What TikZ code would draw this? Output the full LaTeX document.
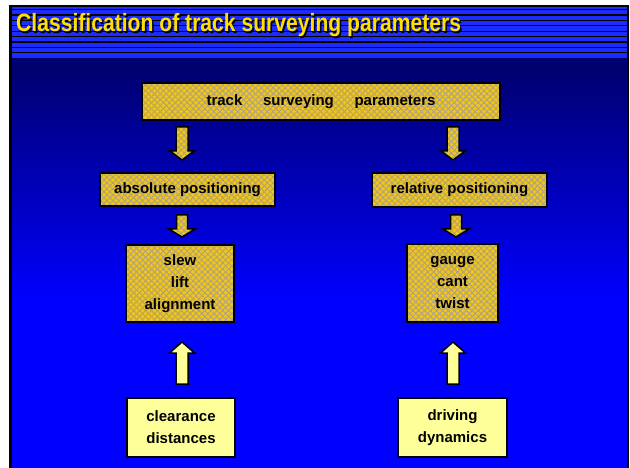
\documentclass[tikz,border=0pt]{standalone}
\usepackage{fontspec}
\setmainfont{Liberation Sans}
\usepackage{graphicx}
\usetikzlibrary{calc,patterns.meta}

% colours of the slide
\definecolor{stripeblue}{RGB}{28,44,255}
\definecolor{navy}{RGB}{0,0,112}
\definecolor{brightblue}{RGB}{0,0,255}
\definecolor{titleyellow}{RGB}{255,222,0}
\definecolor{goldfill}{RGB}{240,198,24}
\definecolor{hatch}{RGB}{178,162,122}
\definecolor{paleyellow}{RGB}{255,255,153}

% vertical block arrow: style, tail, tip, half shaft width, half head width, head length
\newcommand{\trackarrow}[6]{%
  \draw[#1] let \p1=(#2), \p2=(#3), \n1={(\y1>\y2) ? 1 : -1} in
    ({\x1-#4pt},{\y1}) -- ({\x1-#4pt},{\y2+(\n1)*#6pt}) -- ({\x1-#5pt},{\y2+(\n1)*#6pt})
    -- (\x2,\y2) -- ({\x1+#5pt},{\y2+(\n1)*#6pt}) -- ({\x1+#4pt},{\y2+(\n1)*#6pt})
    -- ({\x1+#4pt},{\y1}) -- cycle;}

\tikzset{
  goldtex/.style={preaction={fill=goldfill},
    preaction={pattern={Lines[angle=45,distance=4.2pt,line width=0.9pt]}, pattern color=hatch},
    pattern={Lines[angle=-45,distance=4.2pt,line width=0.9pt]}, pattern color=hatch,
    draw=black},
  goldbox/.style={goldtex, line width=2.2pt, inner sep=0pt, align=center,
    font=\fontsize{15}{22}\selectfont\bfseries},
  palebox/.style={fill=paleyellow, draw=black, line width=2.2pt, inner sep=0pt,
    align=center, font=\fontsize{15}{22}\selectfont\bfseries},
  goldarrow/.style={goldtex, line width=1.5pt, line join=miter},
  palearrow/.style={fill=paleyellow, draw=black, line width=1.5pt, line join=miter},
  titletext/.style={anchor=base west, inner sep=0pt,
    font=\fontsize{25}{30}\selectfont\bfseries}
}

\begin{document}
\begin{tikzpicture}[x=1pt,y=-1pt]
\useasboundingbox (0,0) rectangle (630,468);
\fill[white] (0,0) rectangle (630,468);

% slide frame and background
\fill[black] (9.3,5) rectangle (629.3,468);
\fill[stripeblue] (12,7.3) rectangle (627,58);
\foreach \k in {0,...,8}
  \fill[black] (12,{9+5.4*\k}) rectangle (627,{10.3+5.4*\k});
\fill[navy] (12,58) rectangle (627,68);
\shade[top color=navy, bottom color=brightblue] (12,68) rectangle (627,300);
\fill[brightblue] (12,299.5) rectangle (627,468);

% heading
\node[titletext, text=black] (titleshadow) at (17.5,33.5)
  {\scalebox{0.845}[1]{Classification of track surveying parameters}};
\node[titletext, text=titleyellow] (title) at (16,32)
  {\scalebox{0.845}[1]{Classification of track surveying parameters}};

% boxes
\node[goldbox, minimum width=358, minimum height=37] (tsp) at (321,101.5)
  {track\hspace{1.1em} surveying\hspace{1.1em} parameters};
\node[goldbox, minimum width=175, minimum height=33] (abspos) at (187.5,189.5)
  {absolute positioning};
\node[goldbox, minimum width=175, minimum height=34] (relpos) at (459.5,190)
  {relative positioning};
\node[goldbox, minimum width=108, minimum height=77] (sla) at (180,283.5)
  {slew\\lift\\alignment};
\node[goldbox, minimum width=91, minimum height=78] (gct) at (452.5,283)
  {gauge\\cant\\twist};
\node[palebox, minimum width=108, minimum height=59] (clr) at (181,427.5)
  {clearance\\distances};
\node[palebox, minimum width=109, minimum height=59] (drv) at (452.5,427.5)
  {driving\\dynamics};

% arrow ends
\coordinate (d1s) at (182,127);  \coordinate (d1e) at (182,160);
\coordinate (d2s) at (453,127);  \coordinate (d2e) at (453,160);
\coordinate (d3s) at (182,215);  \coordinate (d3e) at (182,237);
\coordinate (d4s) at (456,215);  \coordinate (d4e) at (456,237);
\coordinate (u1s) at (182,384);  \coordinate (u1e) at (182,342);
\coordinate (u2s) at (453,384);  \coordinate (u2e) at (453,342);

% arrows
\trackarrow{goldarrow}{d1s}{d1e}{6}{12}{9}
\trackarrow{goldarrow}{d2s}{d2e}{6}{12}{9}
\trackarrow{goldarrow}{d3s}{d3e}{5.5}{13}{8}
\trackarrow{goldarrow}{d4s}{d4e}{5.5}{13}{8}
\trackarrow{palearrow}{u1s}{u1e}{6}{12.5}{11}
\trackarrow{palearrow}{u2s}{u2e}{6}{12.5}{11}
\end{tikzpicture}
\end{document}
